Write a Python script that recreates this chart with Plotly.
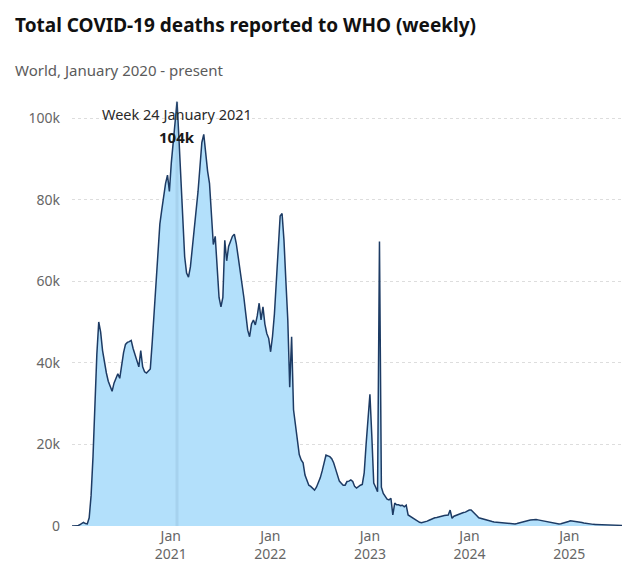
import pandas as pd
import plotly.graph_objects as go

# Weekly WHO-reported COVID-19 deaths (world), weeks ending on Sunday, from 2020-01-05
deaths_2020 = [0, 0, 0, 50, 300, 700, 900, 600, 500, 2000, 7500, 17000, 30000, 42000,
               50000, 47500, 43000, 40000, 37500, 35500, 34000, 33000, 35000, 36000,
               37300, 36200, 39500, 42500, 44500, 45000, 45200, 45500, 43500, 42000,
               40300, 39000, 43000, 39000, 37800, 37500, 38000, 38500, 45000, 52000,
               61000, 68000, 74000, 77500, 81000, 84000, 86000, 82000]
deaths_2021 = [89000, 94000, 100000, 104000, 95000, 84000, 74000, 66000, 62000, 61000,
               63500, 68000, 73000, 78000, 82000, 88000, 94000, 96000, 91000, 87000,
               84000, 76000, 69000, 71000, 62000, 56000, 53700, 56000, 70000, 65000,
               68500, 70000, 71000, 71500, 69300, 66000, 62700, 60500, 56000, 52000,
               48000, 46400, 49500, 50500, 49300, 51500, 54600, 50500, 53700, 49500,
               47200, 46000]
deaths_2022 = [42700, 46500, 52000, 60000, 68000, 76000, 76600, 70000, 60000, 50500,
               34000, 46400, 28500, 25000, 21500, 17500, 16200, 15500, 12500, 11000,
               10000, 9700, 9200, 8800, 9500, 10500, 11800, 13500, 15500, 17400,
               17200, 17000, 16500, 15500, 14000, 12200, 11000, 10500, 10000, 10000,
               10900, 11000, 11300, 10900, 9700, 9300, 9700, 10000, 10200, 13000,
               20000, 27000]
deaths_2023 = [32300, 22000, 10500, 9500, 8400, 69700, 9500, 8000, 7200, 6600,
               6400, 6800, 2700, 5600, 5200, 5200, 5000, 5100, 4700, 5100,
               2700, 2400, 2100, 1800, 1400, 1100, 900, 800, 900, 1050,
               1200, 1400, 1650, 1900, 2000, 2100, 2250, 2300, 2450, 2550,
               2650, 2700, 3900, 1900, 2400, 2600, 2700, 3000, 3200, 3300,
               3400, 3700, 3900]
deaths_2024 = [3900, 3500, 3000, 2500, 2000, 1850, 1700, 1550, 1450, 1350,
               1250, 1100, 1000, 950, 850, 800, 750, 650, 600, 550,
               500, 450, 450, 500, 600, 750, 850, 950, 1100, 1250,
               1350, 1450, 1550, 1650, 1600, 1500, 1400, 1300, 1200, 1100,
               1000, 900, 800, 700, 600, 500, 500, 550, 650, 750,
               900, 1100]
deaths_2025 = [1300, 1250, 1150, 1050, 950, 900, 850, 750, 650, 550,
               500, 450, 400, 380, 350, 330, 300, 280, 260, 250,
               230, 210, 200, 190, 170, 160, 150, 150]

deaths = deaths_2020 + deaths_2021 + deaths_2022 + deaths_2023 + deaths_2024 + deaths_2025
weeks = pd.date_range("2020-01-05", periods=len(deaths), freq="W-SUN")

y_tick_vals = [0, 20000, 40000, 60000, 80000, 100000]
y_tick_text = ["0", "20k", "40k", "60k", "80k", "100k"]
x_tick_vals = ["2021-01-01", "2022-01-01", "2023-01-01", "2024-01-01", "2025-01-01"]
x_tick_text = ["Jan<br>2021", "Jan<br>2022", "Jan<br>2023", "Jan<br>2024", "Jan<br>2025"]

title_text = "Total COVID-19 deaths reported to WHO (weekly)"
subtitle_text = "World, January 2020 - present"
peak_date = "2021-01-24"
peak_value = 104000
peak_label = "Week 24 January 2021"
peak_value_label = "104k"

W, H = 623, 563
ML, MR = 72, 1
zero_px = 526
MB = H - zero_px
px_per_unit = 408 / 100000
MT = 98
plot_h = H - MT - MB
plot_w = W - ML - MR
y_max = plot_h / px_per_unit

FONT = "Noto Sans"

fig = go.Figure()
fig.add_trace(go.Scatter(
    x=weeks, y=deaths, mode="lines", fill="tozeroy",
    line=dict(color="#1d3b64", width=1.5),
    fillcolor="#b3e0fb", hoverinfo="skip", showlegend=False,
))

fig.add_shape(type="line", xref="x", yref="y", x0=peak_date, x1=peak_date,
              y0=0, y1=peak_value, layer="above",
              line=dict(color="rgba(90,130,160,0.14)", width=3))

def py(px):
    return (zero_px - px) / plot_h

def px_x(px):
    return (px - ML) / plot_w

annotations = [
    dict(text=f"<b>{title_text}</b>", x=px_x(13), y=py(25), xref="paper", yref="paper",
         xanchor="left", yanchor="middle", showarrow=False,
         font=dict(family=FONT, size=19, color="#111111")),
    dict(text=subtitle_text, x=px_x(13), y=py(70), xref="paper", yref="paper",
         xanchor="left", yanchor="middle", showarrow=False,
         font=dict(family=FONT, size=15, color="#5b5b5b")),
    dict(text=peak_label, x=peak_date, y=peak_value, xref="x", yref="y",
         xanchor="center", yanchor="middle", yshift=-12, showarrow=False,
         font=dict(family=FONT, size=14.5, color="#2a2a2a")),
    dict(text=f"<b>{peak_value_label}</b>", x=peak_date, y=peak_value, xref="x", yref="y",
         xanchor="center", yanchor="middle", yshift=-35, showarrow=False,
         font=dict(family=FONT, size=15, color="#1a1a1a")),
]

fig.update_layout(
    width=W, height=H,
    margin=dict(l=ML, r=MR, t=MT, b=MB, pad=0),
    paper_bgcolor="white", plot_bgcolor="white",
    annotations=annotations,
    font=dict(family=FONT, size=14, color="#666666"),
    xaxis=dict(range=[weeks[0], weeks[-1]], tickvals=x_tick_vals, ticktext=x_tick_text,
               showgrid=False, zeroline=False, showline=False, ticks="",
               ticklabelstandoff=0,
               tickfont=dict(family=FONT, size=14, color="#666666")),
    yaxis=dict(range=[0, y_max], tickvals=y_tick_vals, ticktext=y_tick_text,
               showgrid=True, gridcolor="#dddddd", griddash="dot", gridwidth=1,
               zeroline=False, showline=False, ticks="", ticklabelstandoff=11,
               tickfont=dict(family=FONT, size=14, color="#666666")),
)

# Remove the page's default body margin so the 623x563 figure fills the window exactly.
fig.write_html("out.html",
               config={"displayModeBar": False},
               post_script="document.body.style.margin='0';document.body.style.overflow='hidden';")
